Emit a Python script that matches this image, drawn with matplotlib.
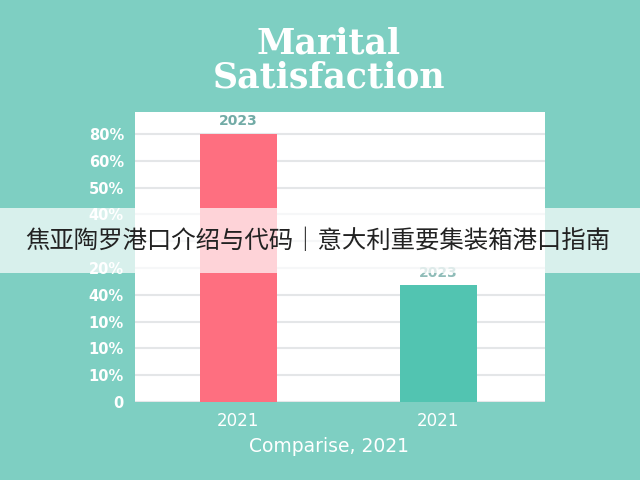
import matplotlib
matplotlib.use("Agg")
import matplotlib.pyplot as plt
from matplotlib.patches import Rectangle

# Data
categories = ["2021", "2021"]
values = [100, 43.5]
bar_labels = ["2023", "2023"]
y_ticks = [0, 10, 20, 30, 40, 50, 60, 70, 80, 90, 100]
y_tick_labels = ["0", "10%", "10%", "10%", "40%", "20%", "", "40%", "50%", "60%", "80%"]
title = "Marital\nSatisfaction"
xlabel = "Comparise, 2021"
banner_text = "焦亚陶罗港口介绍与代码｜意大利重要集装箱港口指南"

BG = "#7ecfc2"
bar_colors = ["#fe6f80", "#52c4b1"]
label_colors = ["#72aba6", "#8fbcb8"]

fig = plt.figure(figsize=(6.4, 4.8), dpi=100, facecolor=BG)
ax = fig.add_axes([135/640, 78/480, 410/640, 290/480])
ax.set_facecolor("white")

x = list(range(len(categories)))
bars = ax.bar(x, values, width=0.385, color=bar_colors, zorder=3)
ax.set_xlim(-0.5175, 1.535)
ax.set_ylim(0, 108.2)

ax.set_yticks(y_ticks)
ax.set_yticklabels(y_tick_labels, color="white", fontsize=10.5, fontweight="bold")
ax.set_xticks(x)
ax.set_xticklabels(categories, color="white", fontsize=12)
ax.tick_params(axis="y", length=0, pad=8)
ax.tick_params(axis="x", length=0, pad=7)
ax.grid(axis="y", color="#e4e6e8", linewidth=1.5, zorder=0)
for s in ax.spines.values():
    s.set_visible(False)

for xi, v, lab, c in zip(x, values, bar_labels, label_colors):
    ax.text(xi, v + 2.2, lab, ha="center", va="bottom", fontsize=10,
            color=c, fontweight="bold", zorder=4)

fig.text(329/640, 1 - 447/480, xlabel, ha="center", va="center",
         color="white", fontsize=13.5)
fig.text(329/640, 1 - 60/480, title, ha="center", va="center",
         color="white", fontsize=25, fontweight="bold", family="DejaVu Serif",
         linespacing=1.0)

# banner overlay
fig.patches.append(Rectangle((0, 1 - 273/480), 1, 65/480, transform=fig.transFigure,
                             facecolor="white", alpha=0.7, edgecolor="none", zorder=10))
fig.text(318/640, 1 - 241/480, banner_text, ha="center", va="center",
         color="#222222", fontsize=17.6, family=["Noto Sans CJK SC", "DejaVu Sans"], zorder=11)

fig.savefig("out.png", dpi=100, facecolor=BG)
